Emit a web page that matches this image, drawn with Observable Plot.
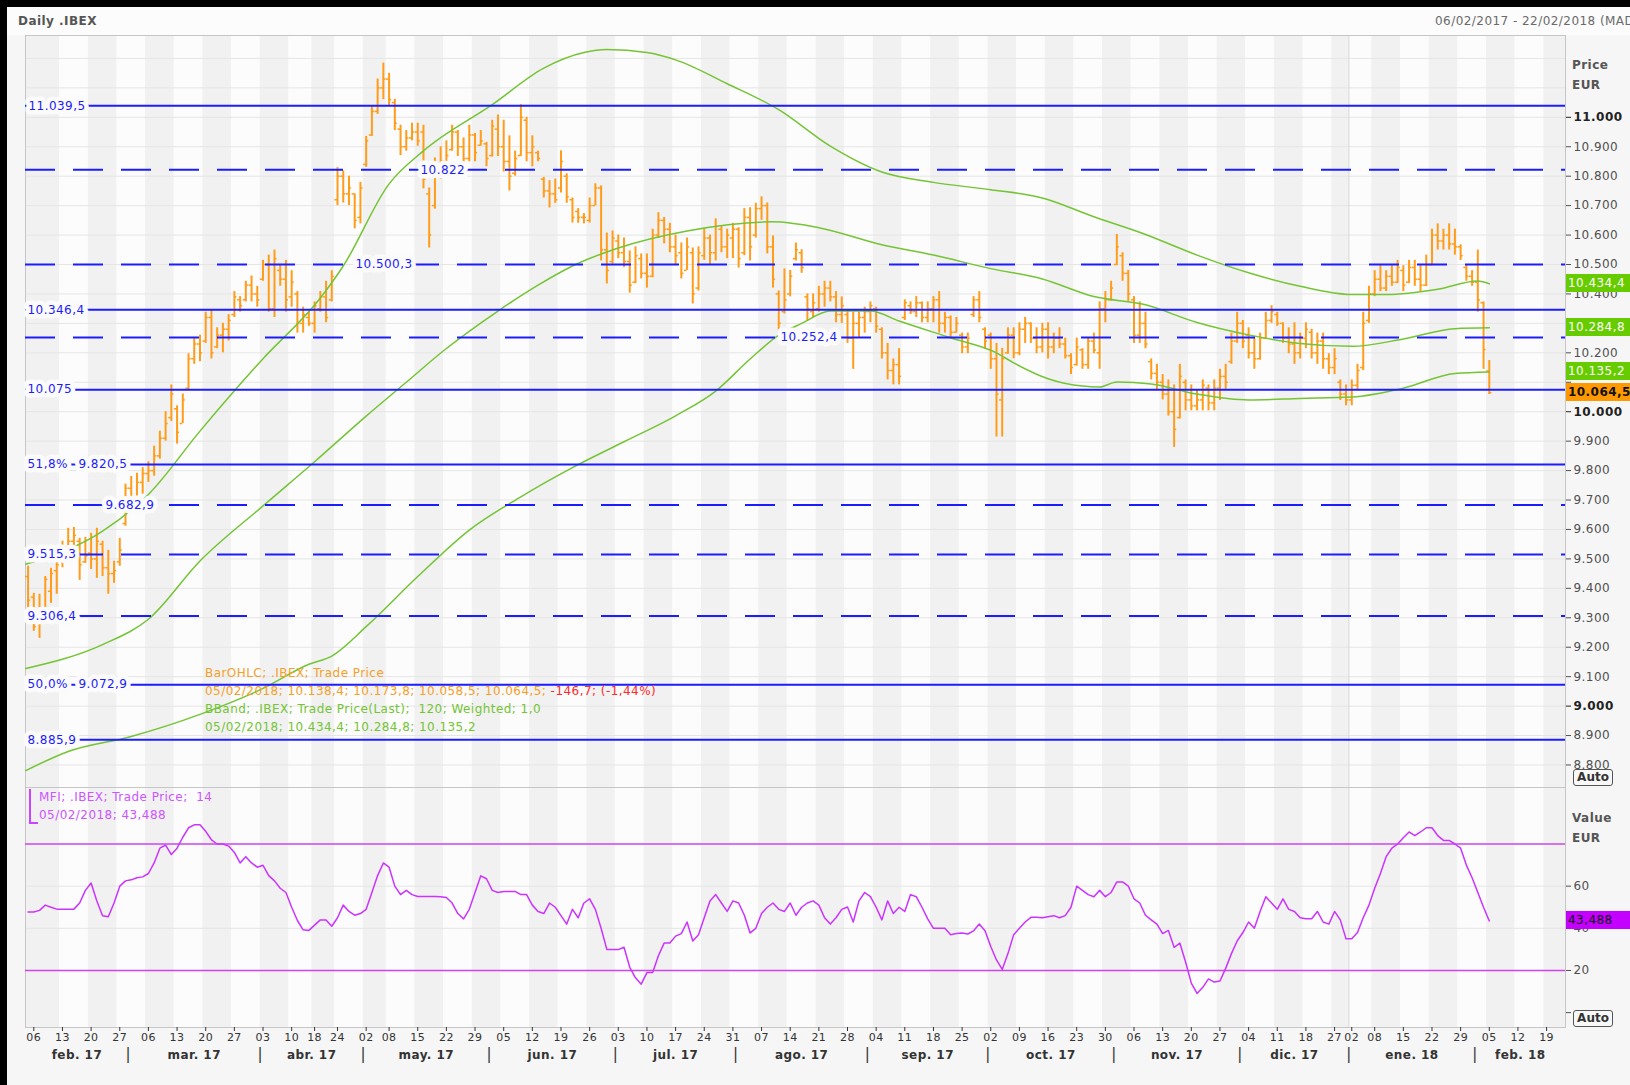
<!DOCTYPE html>
<html>
<head>
<meta charset="utf-8">
<script src="https://cdn.jsdelivr.net/npm/d3@7"></script>
<script src="https://cdn.jsdelivr.net/npm/@observablehq/plot@0.6"></script>
<style>
html,body{margin:0;padding:0}
body{width:1630px;height:1085px;background:#f6f6f6;position:relative;overflow:hidden;font-family:"DejaVu Sans",Verdana,sans-serif;letter-spacing:0.45px}
.abs{position:absolute;white-space:nowrap}
svg text{letter-spacing:0.45px}
.tag{position:absolute;left:1566px;width:64px;height:18px;line-height:18px;font-size:12px;padding-left:2px;box-sizing:border-box;overflow:hidden}
.auto{position:absolute;left:1573px;width:38px;height:15px;line-height:14px;border:1.5px solid #555;border-radius:3px;font-size:12px;font-weight:bold;color:#333;text-align:center;background:#f8f8f8;letter-spacing:0}
</style>
</head>
<body>
<div class="abs" style="left:0;top:7px;width:1630px;height:28px;background:#fcfcfc"></div>
<div id="price" class="abs" style="left:0;top:0"></div>
<div id="mfi" class="abs" style="left:0;top:787px"></div>
<div class="abs" style="left:0;top:0;width:1630px;height:7px;background:#000"></div>
<div class="abs" style="left:0;top:0;width:7px;height:1085px;background:#000"></div>
<div class="abs" style="left:18px;top:14px;font-size:12px;font-weight:bold;color:#555">Daily .IBEX</div>
<div class="abs" style="left:1435px;top:14px;font-size:12px;color:#6a6a6a">06/02/2017 - 22/02/2018 (MAD)</div>
<div class="abs" style="left:1572px;top:58px;font-size:12px;font-weight:bold;color:#555">Price</div>
<div class="abs" style="left:1572px;top:78px;font-size:12px;font-weight:bold;color:#555">EUR</div>
<div class="abs" style="left:1572px;top:811px;font-size:12px;font-weight:bold;color:#555">Value</div>
<div class="abs" style="left:1572px;top:831px;font-size:12px;font-weight:bold;color:#555">EUR</div>
<div class="auto" style="top:769px">Auto</div>
<div class="auto" style="top:1010px">Auto</div>
<div id="legend" class="abs" style="left:205px;top:664px;font-size:12px;line-height:18px"></div>
<div class="abs" style="left:29px;top:789px;width:1.5px;height:34px;background:#cc44ff"></div>
<div class="abs" style="left:29px;top:822px;width:9px;height:1.5px;background:#cc44ff"></div>
<div id="mfilegend" class="abs" style="left:39px;top:788px;font-size:12px;line-height:18px;color:#cc55ff"></div>
<div id="tags"></div>
<script>
// ---------- calendar ----------
const holidays = ["2017-04-14","2017-04-17","2017-05-01","2017-12-25","2017-12-26","2018-01-01"];
const monthNames = ["feb. 17","mar. 17","abr. 17","may. 17","jun. 17","jul. 17","ago. 17","sep. 17","oct. 17","nov. 17","dic. 17","ene. 18","feb. 18"];

// ---------- OHLC (index -1 = 03/02/2017 ... 254 = 05/02/2018) ----------
const open = [
9440,9370,9290,9310,9390,9460,9500,9540,9560,9560,
9490,9520,9500,9550,9470,9450,9490,9620,9740,9710,
9760,9790,9800,9850,9910,9980,10010,9960,10080,10180,
10230,10240,10320,10220,10260,10280,10330,10380,10380,10430,
10400,10450,10500,10350,10480,10450,10390,10400,10300,10320,
10300,10350,10390,10380,10720,10800,10740,10740,10660,10840,
10940,11020,11100,11130,11050,10960,10900,10930,10950,10950,
10740,10700,10820,10850,10890,10950,10900,10860,10940,10905,
10910,10870,10960,10900,10850,10810,10870,10990,10880,10880,
10790,10750,10740,10760,10800,10720,10680,10660,10650,10700,
10760,10550,10510,10580,10540,10510,10440,10520,10470,10460,
10600,10650,10620,10560,10540,10480,10540,10420,10530,10590,
10540,10620,10560,10590,10620,10540,10660,10600,10690,10700,
10560,10400,10340,10400,10520,10540,10390,10340,10350,10400,
10420,10390,10330,10330,10250,10300,10320,10340,10350,10280,
10200,10140,10160,10320,10360,10340,10370,10320,10350,10380,
10300,10320,10270,10260,10220,10330,10380,10280,10260,10180,
10040,10200,10260,10200,10280,10300,10250,10220,10280,10220,
10250,10230,10190,10160,10210,10160,10240,10200,10350,10380,
10500,10530,10470,10380,10260,10300,10170,10130,10100,10060,
10000,9980,10100,10040,10020,10040,10080,10030,10080,10120,
10170,10240,10300,10260,10200,10180,10250,10310,10330,10300,
10250,10230,10200,10250,10270,10200,10240,10180,10150,10100,
10060,10040,10090,10150,10310,10400,10450,10420,10460,10440,
10480,10440,10490,10450,10430,10500,10600,10580,10600,10570,
10560,10490,10460,10440,10370,10138.4];
const high = [
9475,9383,9380,9440,9468,9505,9560,9604,9607,9570,
9573,9587,9604,9560,9529,9492,9570,9754,9780,9791,
9810,9830,9883,9934,10000,10091,10020,10060,10197,10250,
10260,10338,10345,10285,10300,10330,10408,10391,10443,10461,
10426,10514,10532,10549,10496,10514,10479,10408,10355,10338,
10373,10408,10443,10479,10829,10818,10800,10740,10779,10935,
11040,11130,11184,11149,11061,10973,10955,10980,10980,10973,
10760,10862,10900,10920,10973,10955,10930,10973,10945,10955,
10915,10990,11008,10990,10937,10885,11043,11000,10937,10885,
10796,10785,10790,10886,10808,10726,10690,10673,10726,10774,
10767,10607,10614,10600,10590,10546,10560,10536,10536,10620,
10676,10660,10640,10600,10573,10590,10556,10560,10620,10600,
10655,10630,10620,10640,10625,10690,10693,10708,10730,10709,
10597,10410,10485,10480,10573,10550,10400,10400,10426,10443,
10443,10408,10390,10345,10338,10338,10355,10373,10355,10285,
10232,10179,10214,10380,10373,10391,10373,10373,10391,10408,
10338,10325,10320,10267,10267,10391,10408,10285,10267,10232,
10215,10285,10285,10302,10320,10302,10285,10300,10302,10267,
10285,10250,10197,10250,10214,10250,10267,10373,10408,10443,
10602,10540,10480,10391,10373,10338,10179,10161,10126,10108,
10091,10161,10108,10091,10073,10108,10091,10108,10144,10161,
10267,10338,10310,10285,10250,10267,10338,10360,10338,10302,
10285,10302,10267,10302,10280,10267,10267,10197,10214,10108,
10091,10108,10161,10338,10426,10479,10496,10479,10496,10514,
10496,10514,10514,10496,10532,10620,10638,10620,10638,10620,
10567,10496,10479,10549,10373,10173.8];
const low = [
9332,9254,9230,9300,9349,9380,9470,9502,9520,9427,
9485,9464,9434,9440,9380,9417,9475,9611,9660,9696,
9720,9760,9781,9839,9900,9967,9890,9960,10073,10161,
10170,10232,10179,10214,10200,10240,10320,10338,10373,10373,
10355,10443,10338,10320,10426,10338,10355,10267,10267,10290,
10267,10338,10302,10373,10700,10709,10700,10621,10638,10830,
10935,11010,11060,11040,10955,10870,10885,10920,10902,10757,
10556,10688,10790,10830,10885,10867,10814,10849,10849,10902,
10832,10865,10867,10814,10750,10800,10867,10849,10832,10849,
10726,10692,10708,10743,10708,10641,10640,10638,10641,10699,
10512,10434,10502,10520,10490,10403,10435,10451,10420,10455,
10588,10570,10540,10500,10451,10480,10366,10410,10514,10500,
10512,10540,10520,10520,10488,10530,10512,10590,10650,10536,
10420,10257,10332,10390,10512,10470,10308,10320,10338,10355,
10373,10302,10300,10232,10144,10250,10267,10302,10267,10179,
10108,10091,10091,10310,10330,10320,10302,10302,10302,10267,
10267,10250,10267,10197,10197,10320,10302,10214,10144,9914,
9914,10195,10180,10190,10232,10232,10197,10200,10179,10197,
10214,10179,10126,10155,10144,10144,10197,10144,10302,10375,
10496,10443,10373,10232,10232,10214,10108,10073,10040,9985,
9879,9975,10003,10003,10003,10003,10003,10003,10038,10073,
10161,10232,10214,10179,10144,10175,10245,10300,10290,10232,
10197,10161,10179,10214,10179,10161,10144,10126,10126,10038,
10020,10020,10073,10140,10300,10391,10408,10408,10426,10435,
10408,10435,10426,10408,10425,10496,10549,10549,10549,10532,
10514,10443,10426,10338,10144,10058.5];
const close = [
9360,9270,9300,9431,9450,9480,9540,9560,9580,9480,
9510,9500,9560,9470,9450,9460,9530,9740,9700,9760,
9790,9800,9850,9910,9960,10060,9930,10040,10180,10230,
10200,10320,10200,10260,10280,10310,10390,10360,10430,10400,
10380,10500,10350,10520,10450,10380,10440,10300,10330,10300,
10360,10390,10320,10460,10800,10740,10760,10650,10760,10920,
11020,11100,11130,11060,10980,10900,10930,10950,10920,10790,
10600,10820,10850,10870,10950,10900,10860,10940,10880,10920,
10860,10970,10900,10850,10800,10860,11000,10880,10900,10860,
10750,10740,10720,10850,10730,10660,10660,10660,10700,10760,
10550,10480,10590,10540,10510,10430,10530,10470,10460,10600,
10650,10620,10560,10530,10470,10560,10400,10540,10590,10540,
10630,10560,10600,10620,10520,10660,10560,10690,10700,10560,
10450,10300,10380,10460,10550,10490,10350,10370,10400,10420,
10390,10330,10360,10250,10300,10320,10340,10360,10290,10200,
10140,10160,10120,10370,10340,10370,10320,10350,10380,10300,
10320,10270,10300,10220,10250,10380,10320,10240,10180,10060,
10180,10260,10200,10280,10300,10250,10220,10280,10220,10250,
10230,10190,10150,10220,10160,10240,10210,10350,10380,10420,
10560,10470,10400,10260,10300,10230,10130,10100,10060,10000,
9940,10120,10040,10020,10040,10090,10030,10080,10120,10100,
10240,10300,10240,10200,10180,10250,10310,10340,10300,10250,
10230,10200,10250,10280,10200,10240,10180,10150,10180,10060,
10040,10090,10140,10300,10400,10450,10420,10460,10440,10490,
10430,10490,10450,10430,10500,10600,10580,10600,10570,10560,
10530,10460,10440,10380,10211.2,10064.5];

// ---------- Bollinger bands (120, weighted) read at points ----------
const upperIdx = [-1.4,12,20,29,40,50,54,62,68,80,89,96,100,107,112,121,130,139,148,157,167,176,185,194,203,212,221,230,236,245,252,254];
const upperVal = [9482,9594,9719,9934,10180,10386,10495,10774,10886,11043,11167,11220,11230,11220,11195,11114,11026,10902,10814,10779,10754,10726,10662,10602,10532,10472,10426,10398,10398,10416,10444,10434.4];
const middleIdx = [-1.4,12,20,29,40,49,58,65,71.5,81,88,94,102,114,129,137,148,157,167,176,185,194,203,212,221,230,239,248,254];
const middleVal = [9128,9209,9295,9493,9680,9830,9985,10100,10207,10342,10430,10495,10556,10614,10645,10625,10567,10532,10486,10451,10391,10363,10303,10261,10232,10222,10247,10282,10284.8];
const lowerIdx = [-1.4,6,17,29,40,48,52,58,67,76,85,94,103,112,119,125,130,134,139,146,151,160,168,171,177,183,186,189,195,203,212,221,230,239,248,254];
const lowerVal = [8781,8846,8897,8972,9060,9142,9170,9270,9440,9598,9711,9810,9898,9986,10070,10179,10260,10300,10342,10342,10308,10251,10200,10166,10112,10087,10084,10101,10094,10060,10040,10045,10050,10080,10130,10135.2];

// ---------- MFI (14) ----------
const mfi = [
47.7,47.7,48.5,51,50,49.1,49.1,49.1,49.1,52,
58,61.5,53,46,45.5,52,60,62.5,63,64,
64.4,66,71,78,79.5,75,78,83.2,87.7,89.1,
89.1,86,82,80,80,79,76,71,74,71,
69,69.9,65,62.5,59,57,50,43.7,39.3,39,
41.5,44,44,41,45,51,48,46.2,47,49,
57,65,71,69,60,56,58,56,55.1,55.1,
55.1,55.1,55,54.6,52,47,44.5,49,57,64.9,
63.5,58,57,57.5,57.5,57.5,56,56,51,48,
47,52,50,46,42,49,45,52,54,49,
40,30,29.9,29.9,31,21.5,16.5,13.5,19,19,
27,33,33,36.3,37.5,43,34,37,45,53,
56,52,48,53,52,46.2,37.8,40,47,50,
52,49,48,52,46.2,50,52,53,51,45,
42,45,49,50.1,43,53,57,55,50,44,
53,47,50,48,56,55,50,44.5,40,40,
40,37,37.5,37.8,37.3,38.8,42,38.8,31.4,25,
20.5,28,37,40,43,45.2,45.2,45,45.5,46,
45,46,50,60,58,56,55,58,55,57,
62,62,60,54,52,46.2,44,42,37.5,39,
31,33,24,14,9.1,12,16,14.5,15,21,
28,34,38,43,40,48,55,52,49,54,
49,48,45,44.5,44.5,48,43,42,48,44,
35,35,38,45,51,59,66,74,78,80,
83,85.7,84,85.7,87.7,87.7,84,81.7,81.7,80,
78,70,64,57,50,43.488];

// ---------- levels ----------
const levelValues = [11039.5,10822,10500.3,10346.4,10252.4,10075,9820.5,9682.9,9515.3,9306.4,9072.9,8885.9];
const levelDashed = [false,true,true,false,true,false,false,true,true,true,false,false];
const levelText = ["11.039,5","10.822","10.500,3","10.346,4","10.252,4","10.075","9.820,5","9.682,9","9.515,3","9.306,4","9.072,9","8.885,9"];
const levelPrefix = ["","","","","","","51,8%","","","","50,0%",""];
// tick labels shown on the price axis (10.100 and 10.300 sit under the value tags)
const priceTicks = [8800,8900,9100,9200,9300,9400,9500,9600,9700,9800,9900,10200,10400,10500,10600,10700,10800,10900];
const priceTicksHidden = [10100,10300];
const priceTicksBold = [9000,10000,11000];
const priceGrid = [8800,8900,9000,9100,9200,9300,9400,9500,9600,9700,9800,9900,10000,10100,10200,10300,10400,10500,10600,10700,10800,10900,11000,11100,11200];
const mfiTicks = [20,40,60];
const mfiBands = [20,80];

// label horizontal placement (pixels from page left) – layout only
const levelLabelPx = [28,420,355,27,780,27,78,105,27,27,78,27];

// ---------- build ----------
const days = [];
for (let t = Date.UTC(2017,1,3); t <= Date.UTC(2018,1,23); t += 864e5) {
  const d = new Date(t), wd = d.getUTCDay(), iso = d.toISOString().slice(0,10);
  if (wd === 0 || wd === 6 || holidays.includes(iso)) continue;
  days.push(d);
}
const X0 = -1.45, X1 = 267.3;
const bars = open.map((o,k) => ({i:k-1, o, h:high[k], l:low[k], c:close[k]}));
const mfiData = mfi.map((v,k) => ({i:k-1, v}));
const band = (ix, vs) => ix.map((i,k) => ({i, v:vs[k]}));

// weeks
const weeks = [];
let prevKey = null, wk = -1;
days.forEach((d,k) => {
  const wd = d.getUTCDay();
  const key = d.getTime() - (wd-1)*864e5;
  if (key !== prevKey) { weeks.push({i:k-1, d, wk}); wk++; prevKey = key; }
});
const stripes = [];
weeks.forEach((w,j) => {
  if (w.wk < 0) return;
  const x1 = w.wk === 0 ? X0 : w.i - 0.5;
  const x2 = j+1 < weeks.length ? Math.min(weeks[j+1].i - 0.5, X1) : X1;
  if (x1 < X1) stripes.push({x1, x2, even: w.wk % 2 === 0});
});
const tickWeeks = weeks.filter(w => w.wk >= 0 && w.i <= X1);
const tickLabel = new Map(tickWeeks.map(w => [w.i, String(w.d.getUTCDate()).padStart(2,"0")]));
// month separators
const seps = [];
days.forEach((d,k) => { if (k>0 && d.getUTCMonth() !== days[k-1].getUTCMonth() && k-1.5 < X1) seps.push(k-1.5); });
const bounds = [X0, ...seps, X1];
const months = monthNames.map((name,j) => ({name, c:(bounds[j]+bounds[j+1])/2}));
const yearLine = seps[10];

const fmt = (v, dec=0) => {
  const s = Math.abs(v).toFixed(dec); let [a,b] = s.split(".");
  a = a.replace(/\B(?=(\d{3})+(?!\d))/g, ".");
  return (v<0?"-":"") + a + (b ? "," + b : "");
};

const GREY = "#f1f1f1", WHITE = "#fcfcfc";
const ORANGE = "#ff9c1a", GREEN = "#74c434", BLUE = "#1c1cff", MAG = "#cc33ff";
const style = {background:"transparent", fontFamily:"DejaVu Sans, Verdana, sans-serif", overflow:"visible"};

const stripeMarks = [
  Plot.rect(stripes.filter(s=>s.even), {x1:"x1", x2:"x2", fill:GREY}),
  Plot.rect(stripes.filter(s=>!s.even), {x1:"x1", x2:"x2", fill:WHITE})
];

const levels = levelValues.map((v,k) => ({v, dashed:levelDashed[k], t:levelText[k], p:levelPrefix[k], px:levelLabelPx[k]}));
const haloMarks = [], labelMarks = [];
levels.forEach(L => {
  const parts = [{key:"t", dx:L.px-25}];
  if (L.p) parts.push({key:"p", dx:2});
  parts.forEach(P => {
    haloMarks.push(Plot.text([L], {y:"v", text:P.key, frameAnchor:"left", dx:P.dx, textAnchor:"start", fill:"#fbfbfb", fontSize:12, stroke:"#fbfbfb", strokeWidth:9, strokeLinejoin:"round"}));
    labelMarks.push(Plot.text([L], {y:"v", text:P.key, frameAnchor:"left", dx:P.dx, textAnchor:"start", fill:BLUE, fontSize:12}));
  });
});

const price = Plot.plot({
  width:1630, height:790, marginLeft:25, marginRight:65, marginTop:35, marginBottom:3,
  style,
  x:{domain:[X0,X1], axis:null, label:null},
  y:{domain:[8723.5,11277.9], label:null},
  marks:[
    ...stripeMarks,
    Plot.ruleY(priceGrid, {stroke:"#e5e5e5"}),
    Plot.ruleX([yearLine], {stroke:"#d6d6d6"}),
    Plot.frame({stroke:"#c6c6c6"}),
    Plot.ruleX(bars, {x:"i", y1:"l", y2:"h", stroke:ORANGE, strokeWidth:2}),
    Plot.ruleY(bars, {y:"o", x1:d=>d.i-0.45, x2:"i", stroke:ORANGE, strokeWidth:1.5}),
    Plot.ruleY(bars, {y:"c", x1:"i", x2:d=>d.i+0.45, stroke:ORANGE, strokeWidth:1.5}),
    Plot.line(band(upperIdx, upperVal), {x:"i", y:"v", stroke:GREEN, strokeWidth:1.5, curve:"monotone-x"}),
    Plot.line(band(middleIdx, middleVal), {x:"i", y:"v", stroke:GREEN, strokeWidth:1.5, curve:"monotone-x"}),
    Plot.line(band(lowerIdx, lowerVal), {x:"i", y:"v", stroke:GREEN, strokeWidth:1.5, curve:"monotone-x"}),
    Plot.ruleY(levels.filter(l=>!l.dashed), {y:"v", stroke:BLUE, strokeWidth:2}),
    Plot.ruleY(levels.filter(l=>l.dashed), {y:"v", stroke:BLUE, strokeWidth:2, strokeDasharray:"30,18"}),
    ...haloMarks,
    ...labelMarks,
    Plot.axisY({anchor:"right", ticks:priceTicks, tickFormat:v=>fmt(v), tickSize:5, tickPadding:3, fontSize:12, color:"#505050", label:null}),
    Plot.axisY({anchor:"right", ticks:priceTicksHidden, tickFormat:()=>"", tickSize:5, color:"#505050", label:null}),
    Plot.axisY({anchor:"right", ticks:priceTicksBold, tickFormat:v=>fmt(v), tickSize:5, tickPadding:3, fontSize:12, fontWeight:"bold", color:"#222", label:null})
  ]
});
document.getElementById("price").append(price);

const mfiPlot = Plot.plot({
  width:1630, height:298, marginLeft:25, marginRight:65, marginTop:0, marginBottom:58,
  style,
  x:{domain:[X0,X1], label:null},
  y:{domain:[-7.05,106.8], label:null},
  marks:[
    ...stripeMarks,
    Plot.ruleY([40,60], {stroke:"#e5e5e5"}),
    Plot.ruleX([yearLine], {stroke:"#d6d6d6"}),
    Plot.frame({stroke:"#c6c6c6"}),
    Plot.ruleY(mfiBands, {stroke:"#cc44ee", strokeWidth:1.5}),
    Plot.line(mfiData, {x:"i", y:"v", stroke:MAG, strokeWidth:1.5}),
    Plot.axisY({anchor:"right", ticks:mfiTicks, tickSize:5, tickPadding:3, fontSize:12, color:"#505050", label:null}),
    Plot.axisY({anchor:"right", ticks:[0], tickFormat:()=>"", tickSize:5, color:"#505050", label:null}),
    Plot.axisX({anchor:"bottom", ticks:tickWeeks.map(w=>w.i), tickFormat:i=>tickLabel.get(i), tickSize:4, tickPadding:2, fontSize:11, color:"#333", label:null}),
    Plot.text(months, {x:"c", text:"name", frameAnchor:"bottom", dy:31, fontSize:12, fontWeight:"bold", fill:"#333"}),
    Plot.text(seps, {x:d=>d, text:()=>"|", frameAnchor:"bottom", dy:31, fontSize:15, fill:"#333"})
  ]
});
document.getElementById("mfi").append(mfiPlot);

// ---------- legends ----------
const n = close.length - 1;
const chg = close[n] - close[n-1];
const pct = chg / close[n-1] * 100;
document.getElementById("legend").innerHTML =
  `<div style="color:#f5a028">BarOHLC; .IBEX; Trade Price</div>` +
  `<div style="color:#f5a028">05/02/2018; ${fmt(open[n],1)}; ${fmt(high[n],1)}; ${fmt(low[n],1)}; ${fmt(close[n],1)}; <span style="color:#ff2a2a">${fmt(chg,1)}; (${fmt(pct,2)}%)</span></div>` +
  `<div style="color:${GREEN}">BBand; .IBEX; Trade Price(Last);&nbsp;&nbsp;120; Weighted; 1,0</div>` +
  `<div style="color:${GREEN}">05/02/2018; ${fmt(upperVal[upperVal.length-1],1)}; ${fmt(middleVal[middleVal.length-1],1)}; ${fmt(lowerVal[lowerVal.length-1],1)}</div>`;
document.getElementById("mfilegend").innerHTML =
  `<div>MFI; .IBEX; Trade Price;&nbsp;&nbsp;14</div><div>05/02/2018; ${fmt(mfi[mfi.length-1],3)}</div>`;

// ---------- right-side value tags ----------
const yP = price.scale("y"), yM = mfiPlot.scale("y");
const tags = document.getElementById("tags");
function tag(y, text, bg, color, bold) {
  const el = document.createElement("div");
  el.className = "tag";
  el.style.top = (y - 9) + "px";
  el.style.background = bg; el.style.color = color;
  if (bold) el.style.fontWeight = "bold";
  el.textContent = text;
  tags.append(el);
}
tag(yP.apply(upperVal[upperVal.length-1]), fmt(upperVal[upperVal.length-1],1), "#66cc00", "#fff");
tag(yP.apply(middleVal[middleVal.length-1]), fmt(middleVal[middleVal.length-1],1), "#66cc00", "#fff");
tag(yP.apply(lowerVal[lowerVal.length-1]), fmt(lowerVal[lowerVal.length-1],1), "#66cc00", "#fff");
tag(yP.apply(close[n]), fmt(close[n],1), "#ff9900", "#111", true);
tag(787 + yM.apply(mfi[mfi.length-1]), fmt(mfi[mfi.length-1],3), "#c400ff", "#111", false);
</script>
</body>
</html>
